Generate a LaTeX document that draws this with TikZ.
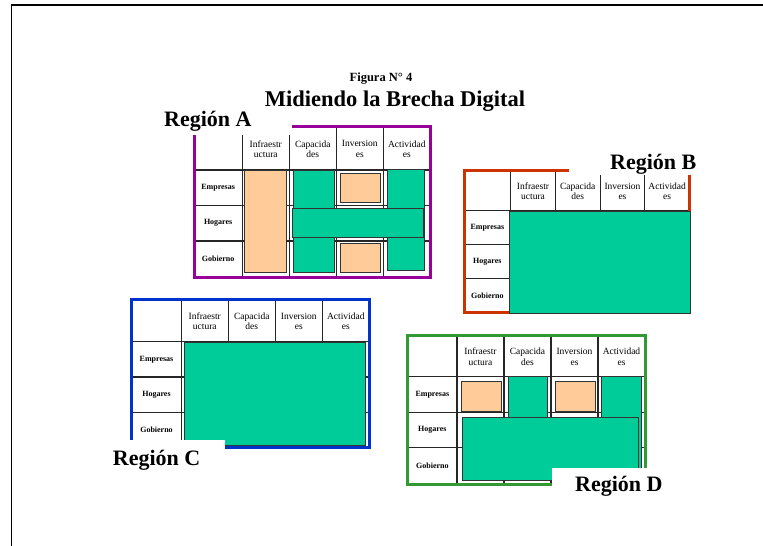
\documentclass[tikz,border=0pt]{standalone}
\usepackage{fontspec}
\setmainfont{Liberation Serif}
\definecolor{peach}{HTML}{FFCC99}
\definecolor{cellgreen}{HTML}{00CC99}
\definecolor{frameA}{HTML}{990099}
\definecolor{frameB}{HTML}{CC3300}
\definecolor{frameC}{HTML}{0033CC}
\definecolor{frameD}{HTML}{339933}

\tikzset{
  gridline/.style={black!85, line width=1.2pt},
  regionframe/.style={line width=3pt},
  peachbox/.style={fill=peach, draw=black!80, line width=0.8pt},
  greenbox/.style={fill=cellgreen, draw=black!80, line width=0.8pt},
  colhead/.style={font=\fontsize{9.5}{10.5}\selectfont, align=center, inner sep=0pt},
  rowhead/.style={font=\bfseries\fontsize{8}{9}\selectfont, inner sep=0pt},
  regionlabel/.style={font=\bfseries\fontsize{22}{24}\selectfont, anchor=base west, inner sep=0pt},
  labelmask/.style={fill=white, draw=none},
}

% #1 prefix, #2 x0, #3 y0, #4 right edge of label column, #5 column width,
% #6 x1, #7 bottom of header row, #8 row height, #9 y1
\newcommand\gridtable[9]{%
  \foreach \i in {0,1,2,3}
    \draw[gridline] ({#4+\i*#5},{#3+1.5}) -- ({#4+\i*#5},{#9-1.5});
  \foreach \j in {0,1,2}
    \draw[gridline] ({#2+1.5},{#7+\j*#8}) -- ({#6-1.5},{#7+\j*#8});
  \foreach \t [count=\i from 0] in {Infraestr\\uctura, Capacida\\des, Inversion\\es, Actividad\\es}
    \node[colhead] (#1-col\i) at ({#4+(\i+0.5)*#5},{(#3+#7)/2+1}) {\t};
  \foreach \t [count=\j from 0] in {Empresas, Hogares, Gobierno}
    \node[rowhead] (#1-row\j) at ({(#2+#4)/2},{#7+(\j+0.5)*#8}) {\t};
}

\begin{document}
\begin{tikzpicture}[x=1pt, y=-1pt]
\useasboundingbox (0,0) rectangle (763,546);

% page border (left and top)
\draw[line width=1.6pt] (11.5,546) -- (11.5,4.7) -- (763,4.7);

% title
\node[font=\bfseries\fontsize{12.5}{14}\selectfont, anchor=base, inner sep=0pt] (fig) at (381,81) {Figura N° 4};
\node[font=\bfseries\fontsize{22.5}{26}\selectfont, anchor=base, inner sep=0pt] (title) at (395,106) {Midiendo la Brecha Digital};

% ---------------- Region A ----------------
\gridtable{A}{194}{126}{242.3}{47}{430}{170}{35.5}{277}
\draw[regionframe, frameA] (194,126) rectangle (430,277);
\draw[peachbox] (244.3,170) rectangle (286.7,272.7);
\draw[greenbox] (293.3,170) rectangle (334,272.7);
\draw[greenbox] (387.3,169.3) rectangle (424,270.7);
\draw[greenbox] (292.3,208.3) rectangle (423.3,237.3);
\draw[peachbox] (340,173.3) rectangle (380.7,202.3);
\draw[peachbox] (340,243.3) rectangle (380.7,272.3);
\fill[labelmask] (150,110) rectangle (292,135);
\node[regionlabel] (labA) at (164,126.7) {Región A};

% ---------------- Region B ----------------
\gridtable{B}{464}{170}{510.7}{44.7}{689.3}{210.7}{34}{312.7}
\draw[regionframe, frameB] (464,170) rectangle (689.3,312.7);
\draw[greenbox] (509.3,211) rectangle (690.7,313);
\fill[labelmask] (569,140) rectangle (705,174.5);
\node[regionlabel] (labB) at (610,169) {Región B};

% ---------------- Region C ----------------
\gridtable{C}{131.7}{299}{181.3}{47}{369.3}{341.7}{35.3}{447.7}
\draw[regionframe, frameC] (131.7,299) rectangle (369.3,447.7);
\draw[greenbox] (184.3,342.3) rectangle (365.7,445);
\fill[labelmask] (105,440) rectangle (225,475);
\node[regionlabel] (labC) at (112.7,465) {Región C};

% ---------------- Region D ----------------
\gridtable{D}{407.7}{335}{457}{47}{645}{376.7}{35.5}{484}
\draw[regionframe, frameD] (407.7,335) rectangle (645,484);
\draw[peachbox] (461.7,381.7) rectangle (501.7,411);
\draw[greenbox] (508.3,376.7) rectangle (547.7,478);
\draw[peachbox] (555.7,381.7) rectangle (595.7,411);
\draw[greenbox] (601.7,376.7) rectangle (641,478);
\draw[greenbox] (462.7,417.3) rectangle (638.3,480.7);
\fill[labelmask] (551.7,467.7) rectangle (672,500);
\node[regionlabel] (labD) at (575,491.7) {Región D};
\end{tikzpicture}
\end{document}
